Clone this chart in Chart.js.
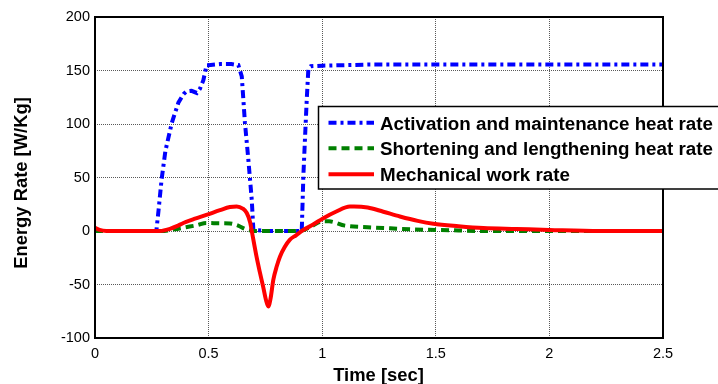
<!DOCTYPE html>
<html>
<head>
<meta charset="utf-8">
<script src="https://cdn.jsdelivr.net/npm/chart.js@4/dist/chart.umd.min.js"></script>
<style>
html,body{margin:0;padding:0;background:#fff;}
canvas{display:block;}
</style>
</head>
<body>
<canvas id="c" width="718" height="384"></canvas>
<script>
// ---- data ----
const seriesNames = [
  "Activation and maintenance heat rate",
  "Shortening and lengthening heat rate",
  "Mechanical work rate"
];
const xTicks = [0, 0.5, 1, 1.5, 2, 2.5];
const yTicks = [-100, -50, 0, 50, 100, 150, 200];

const actT = [0,0.27,0.28,0.293,0.31,0.338,0.367,0.39,0.403,0.425,0.448,0.462,0.477,0.491,0.5,0.55,0.6,0.631,0.646,0.66,0.675,0.69,0.697,0.75,0.85,0.91,0.917,0.925,0.932,0.939,0.95,1.0,1.1,1.2,1.5,2.0,2.5];
const actV = [0,0,20,48,75,101,120,128,130.5,131,129,133,141,155,155,156,156,155,144.5,101,66.6,29,1,0,0,0,51,90,123,151,154,154.5,155,155.5,155.5,155.5,155.5];

const shT = [0,0.29,0.35,0.4,0.45,0.49,0.55,0.594,0.63,0.66,0.7,0.8,0.9,0.95,1.0,1.03,1.1,1.2,1.3,1.4,1.5,1.6,1.7,1.8,2.5];
const shV = [0,0,1.5,3.5,5.5,7.5,7.2,7,5,2,0,0,0,4,9,9,5,3.5,2.5,1.5,1,0.5,0,0,0];

const mwT = [0,0.02,0.05,0.286,0.33,0.36,0.389,0.44,0.49,0.55,0.594,0.624,0.65,0.668,0.683,0.69,0.711,0.725,0.74,0.752,0.763,0.772,0.785,0.8,0.814,0.835,0.858,0.885,0.917,0.96,1.005,1.06,1.122,1.14,1.2,1.269,1.342,1.42,1.489,1.6,1.709,1.856,2.0,2.222,2.5];
const mwV = [3,1,0,0,2,4.5,7.5,11.5,15,19.5,22.4,23,21,16.8,8,0,-24,-38,-52,-64,-70.5,-64,-45.5,-33,-24,-15,-8,-4,1,6,12,18,23,23,22,18,13.6,9.5,6.8,4.5,2.8,1.9,1,0,0];

const pts = (t, v) => t.map((x, i) => ({x: x, y: v[i]}));

const colors = ["#0000ff", "#008000", "#ff0000"];
const dashes = [[8,4,3,4], [8,5], []];

const FONT = "'Liberation Sans', Arial, Helvetica, sans-serif";

const overlay = {
  id: 'overlay',
  afterDraw(chart) {
    const ctx = chart.ctx;
    const a = chart.chartArea;
    ctx.save();
    // axes box
    ctx.strokeStyle = '#000';
    ctx.lineWidth = 2;
    ctx.setLineDash([]);
    ctx.strokeRect(a.left, a.top, a.right - a.left, a.bottom - a.top);
    // axis titles
    ctx.fillStyle = '#000';
    ctx.font = "bold 18.4px " + FONT;
    ctx.textAlign = 'center';
    ctx.textBaseline = 'alphabetic';
    ctx.fillText("Time [sec]", 378.5, 381);
    ctx.save();
    ctx.translate(26.5, 183);
    ctx.rotate(-Math.PI / 2);
    ctx.fillText("Energy Rate [W/Kg]", 0, 0);
    ctx.restore();
    // legend
    const lx = 318.5, ly = 106.5, lw = 420, lh = 82.5;
    ctx.fillStyle = '#fff';
    ctx.fillRect(lx, ly, lw, lh);
    ctx.strokeStyle = '#000';
    ctx.lineWidth = 1.5;
    ctx.strokeRect(lx, ly, lw, lh);
    const rows = [122.7, 148.3, 174.2];
    ctx.font = "bold 18.8px " + FONT;
    ctx.textAlign = 'left';
    ctx.textBaseline = 'alphabetic';
    for (let i = 0; i < 3; i++) {
      ctx.strokeStyle = colors[i];
      ctx.lineWidth = 4;
      ctx.lineCap = 'butt';
      ctx.setLineDash(dashes[i]);
      ctx.beginPath();
      ctx.moveTo(328.5, rows[i]);
      ctx.lineTo(374, rows[i]);
      ctx.stroke();
      ctx.setLineDash([]);
      ctx.fillStyle = '#000';
      ctx.fillText(seriesNames[i], 380, rows[i] + 6.8);
    }
    ctx.restore();
  }
};

new Chart(document.getElementById('c'), {
  type: 'line',
  data: {
    datasets: [
      {label: seriesNames[0], data: pts(actT, actV), borderColor: colors[0], borderDash: dashes[0], borderWidth: 4, pointRadius: 0, tension: 0, order: 3},
      {label: seriesNames[1], data: pts(shT, shV), borderColor: colors[1], borderDash: dashes[1], borderWidth: 4, pointRadius: 0, cubicInterpolationMode: 'monotone', order: 2},
      {label: seriesNames[2], data: pts(mwT, mwV), borderColor: colors[2], borderWidth: 4, pointRadius: 0, cubicInterpolationMode: 'monotone', order: 1}
    ]
  },
  options: {
    responsive: false,
    devicePixelRatio: 1,
    animation: false,
    layout: {padding: {top: 17, right: 55, left: 0, bottom: 0}},
    plugins: {legend: {display: false}, tooltip: {enabled: false}},
    scales: {
      x: {
        type: 'linear', min: 0, max: 2.5,
        afterBuildTicks: s => { s.ticks = xTicks.map(v => ({value: v})); },
        ticks: {color: '#000', font: {family: FONT, size: 14.5}, padding: 7, maxRotation: 0,
                callback: v => String(v)},
        grid: {color: 'rgba(0,0,0,0.65)', lineWidth: 1, drawTicks: false},
        border: {display: false, dash: [1, 1]},
        afterFit: s => { s.height = 46; }
      },
      y: {
        min: -100, max: 200,
        afterBuildTicks: s => { s.ticks = yTicks.map(v => ({value: v})); },
        ticks: {color: '#000', font: {family: FONT, size: 14.5}, padding: 5,
                callback: v => String(v)},
        grid: {color: 'rgba(0,0,0,0.65)', lineWidth: 1, drawTicks: false},
        border: {display: false, dash: [1, 1]},
        afterFit: s => { s.width = 95; }
      }
    }
  },
  plugins: [overlay]
});
</script>
</body>
</html>
